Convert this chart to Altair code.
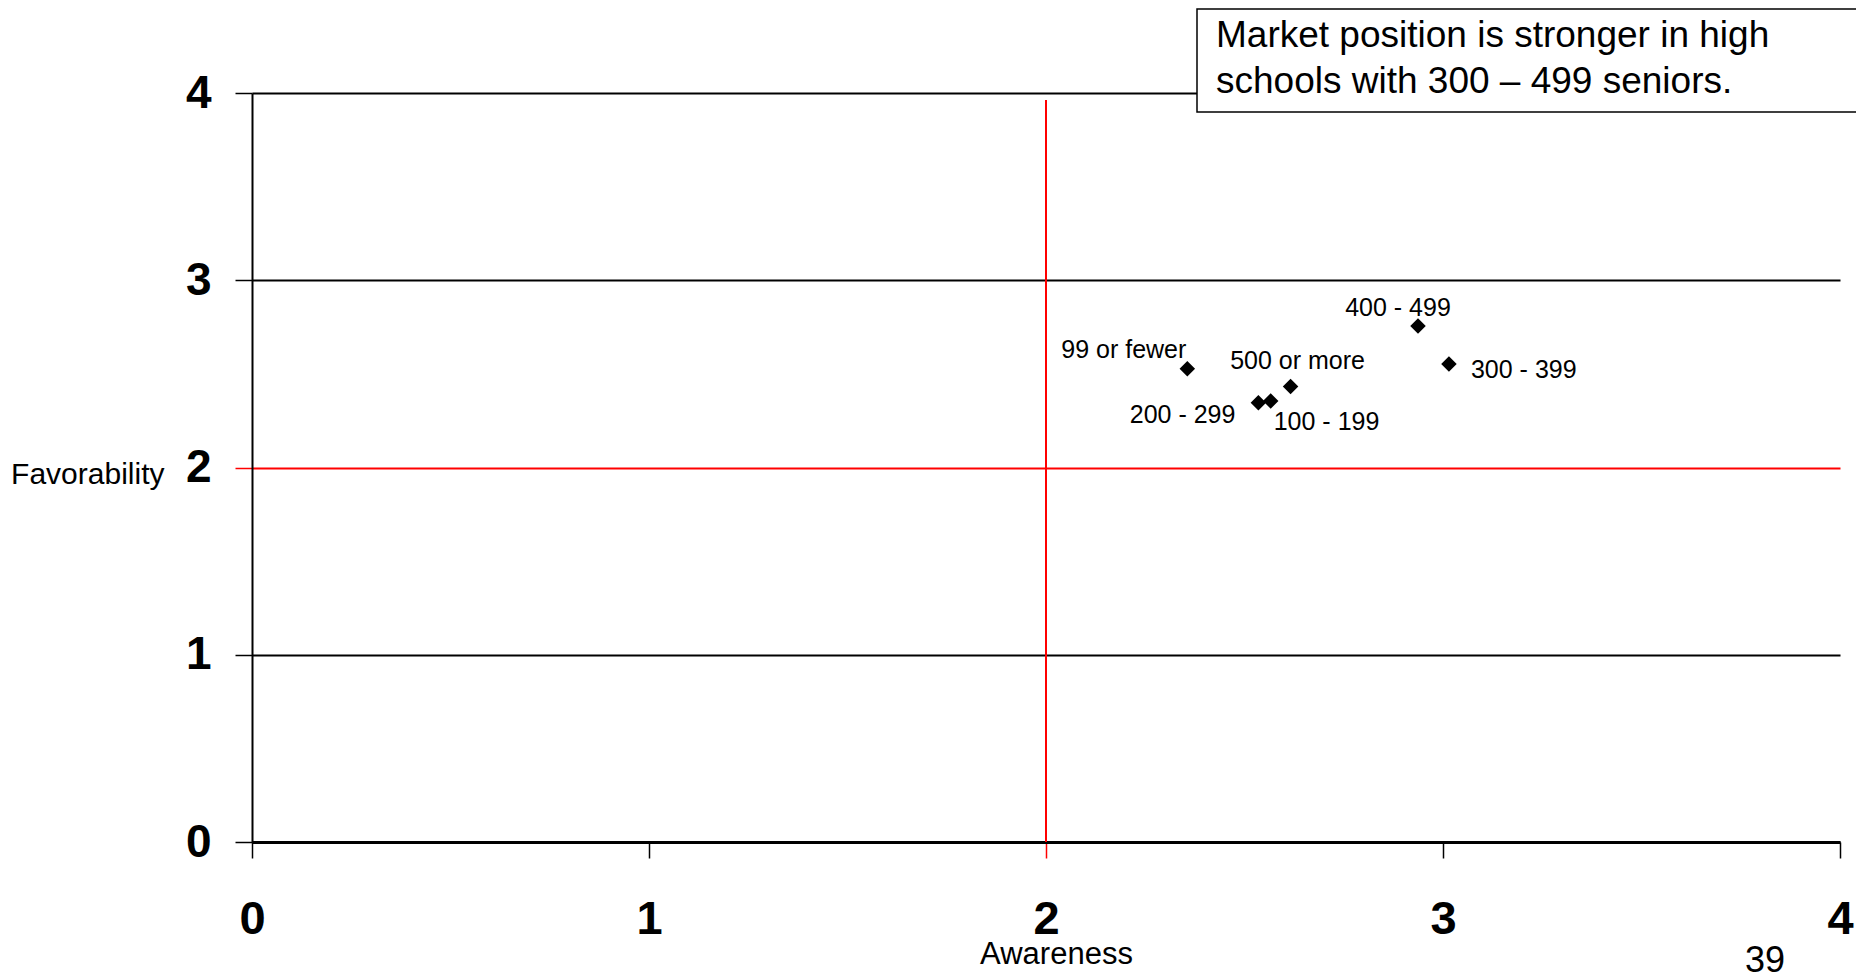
import altair as alt
import pandas as pd

# ---- data ----
labels = ["99 or fewer", "100 - 199", "200 - 299", "300 - 399", "400 - 499", "500 or more"]
awareness = [2.356, 2.566, 2.535, 3.015, 2.937, 2.616]
favorability = [2.528, 2.355, 2.346, 2.553, 2.756, 2.432]

ref_awareness = [2]
ref_fav_top = [3.963]
ref_fav_bottom = [0]

tick_values = [0, 1, 2, 3, 4]

note_lines = ["Market position is stronger in high", "schools with 300 \u2013 499 seniors."]
page_number = "39"
x_title = "Awareness"
y_title = "Favorability"

df = pd.DataFrame({"label": labels, "awareness": awareness, "favorability": favorability})
ref_df = pd.DataFrame({"awareness": ref_awareness, "favorability": ref_fav_top,
                       "favorability2": ref_fav_bottom})
one = pd.DataFrame({"k": [0]})

# label placement (style): align, dx, dy
label_style = {
    "99 or fewer": ("right", -1, -11),
    "100 - 199": ("left", 3, 29),
    "200 - 299": ("right", -23, 20),
    "300 - 399": ("left", 22, 14),
    "400 - 499": ("center", -20, -10),
    "500 or more": ("center", 7, -18),
}

FONT = "Liberation Sans"
W, H = 1588, 749

x_scale = alt.Scale(domain=[0, 4], nice=False, zero=False)
y_scale = alt.Scale(domain=[0, 4], nice=False, zero=False)

red_if_2 = alt.condition("datum.value == 2", alt.value("#ff0000"), alt.value("black"))

x_axis = alt.Axis(
    values=tick_values, format="d", grid=False,
    domainColor="black", domainWidth=3,
    tickColor=red_if_2, tickSize=16, tickWidth=1.5,
    labelFont=FONT, labelFontSize=47, labelFontWeight="bold", labelColor="black",
    labelPadding=38, labelFlush=False,
    title=x_title, titleFont=FONT, titleFontSize=31, titleFontWeight="normal",
    titleColor="black", titleX=804, titleY=121, titleAlign="center",
    titleBaseline="alphabetic",
)
y_axis = alt.Axis(
    values=tick_values, format="d", grid=True,
    gridColor=red_if_2, gridWidth=2, gridOpacity=1,
    domainColor="black", domainWidth=2,
    tickColor=red_if_2, tickSize=17, tickWidth=1.5,
    labelFont=FONT, labelFontSize=46, labelFontWeight="bold", labelColor="black",
    labelPadding=24, labelFlush=False,
    title=y_title, titleFont=FONT, titleFontSize=30, titleFontWeight="normal",
    titleColor="black", titleAngle=0, titleAlign="right", titleBaseline="alphabetic",
    titleX=-88, titleY=390,
)

X = alt.X("awareness:Q", scale=x_scale, axis=x_axis)
Y = alt.Y("favorability:Q", scale=y_scale, axis=y_axis)

ref_rule = alt.Chart(ref_df).mark_rule(color="#ff0000", strokeWidth=2).encode(
    x=X, y=Y, y2="favorability2:Q",
)

points = alt.Chart(df).mark_point(
    shape="diamond", filled=True, size=240, color="black", opacity=1
).encode(x=X, y=Y)

label_layers = []
for lab in labels:
    align, dx, dy = label_style[lab]
    label_layers.append(
        alt.Chart(df).transform_filter(alt.datum.label == lab).mark_text(
            align=align, baseline="alphabetic", dx=dx, dy=dy,
            font=FONT, fontSize=25, color="black",
        ).encode(x=X, y=Y, text="label:N")
    )

note_box = alt.Chart(one).mark_rect(fill="white", stroke="black", strokeWidth=1.5).encode(
    x=alt.value(945), x2=alt.value(1606), y=alt.value(-84), y2=alt.value(19)
)
note_text = alt.Chart(one).mark_text(
    align="left", baseline="alphabetic", font=FONT, fontSize=37, lineHeight=45.6,
    color="black", text=note_lines,
).encode(x=alt.value(964), y=alt.value(-46))

page_text = alt.Chart(one).mark_text(
    align="center", baseline="alphabetic", font=FONT, fontSize=36, color="black",
    text=page_number,
).encode(x=alt.value(1513), y=alt.value(879))

chart = alt.layer(
    ref_rule, points, *label_layers, note_box, note_text, page_text
).properties(
    width=W, height=H,
    autosize=alt.AutoSizeParams(type="none"),
    padding={"left": 244, "top": 85, "right": 16, "bottom": 134},
    background="white",
).configure_view(stroke=None)

chart.save("out.html", embed_options={"renderer": "svg", "actions": False})
